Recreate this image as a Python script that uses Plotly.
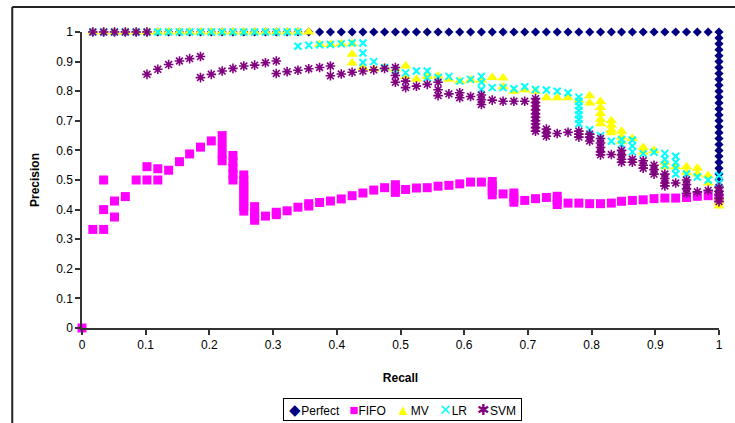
import plotly.graph_objects as go

# ---------------- data ----------------
perfect_recall = [0.017, 0.034, 0.051, 0.068, 0.085, 0.102, 0.119, 0.136, 0.153, 0.169,
                  0.186, 0.203, 0.220, 0.237, 0.254, 0.271, 0.288, 0.305, 0.322, 0.339,
                  0.356, 0.373, 0.390, 0.407, 0.424, 0.441, 0.458, 0.475, 0.492, 0.508,
                  0.525, 0.542, 0.559, 0.576, 0.593, 0.610, 0.627, 0.644, 0.661, 0.678,
                  0.695, 0.712, 0.729, 0.746, 0.763, 0.780, 0.797, 0.814, 0.831, 0.847,
                  0.864, 0.881, 0.898, 0.915, 0.932, 0.949, 0.966, 0.983, 1.0,
                  1.0, 1.0, 1.0, 1.0, 1.0, 1.0, 1.0, 1.0, 1.0, 1.0,
                  1.0, 1.0, 1.0, 1.0, 1.0, 1.0, 1.0, 1.0, 1.0, 1.0,
                  1.0, 1.0, 1.0, 1.0, 1.0, 1.0, 1.0, 1.0]
perfect_precision = [1.0, 1.0, 1.0, 1.0, 1.0, 1.0, 1.0, 1.0, 1.0, 1.0,
                     1.0, 1.0, 1.0, 1.0, 1.0, 1.0, 1.0, 1.0, 1.0, 1.0,
                     1.0, 1.0, 1.0, 1.0, 1.0, 1.0, 1.0, 1.0, 1.0, 1.0,
                     1.0, 1.0, 1.0, 1.0, 1.0, 1.0, 1.0, 1.0, 1.0, 1.0,
                     1.0, 1.0, 1.0, 1.0, 1.0, 1.0, 1.0, 1.0, 1.0, 1.0,
                     1.0, 1.0, 1.0, 1.0, 1.0, 1.0, 1.0, 1.0, 1.0,
                     0.98, 0.96, 0.94, 0.92, 0.90, 0.88, 0.86, 0.84, 0.82, 0.80,
                     0.78, 0.76, 0.74, 0.72, 0.70, 0.68, 0.66, 0.64, 0.62, 0.60,
                     0.58, 0.56, 0.54, 0.52, 0.50, 0.48, 0.46, 0.44]

fifo_recall = [0.0, 0.017, 0.034, 0.034, 0.034, 0.051, 0.051, 0.068, 0.085, 0.102, 0.102,
               0.119, 0.119, 0.136, 0.153, 0.169, 0.186, 0.203,
               0.220, 0.220, 0.220, 0.220,
               0.237, 0.237, 0.237, 0.237, 0.237,
               0.254, 0.254, 0.254, 0.254, 0.254, 0.254, 0.254, 0.254, 0.254,
               0.271, 0.271, 0.271, 0.271,
               0.288, 0.305, 0.305, 0.322, 0.339, 0.356, 0.356, 0.373, 0.390, 0.407,
               0.424, 0.441, 0.458, 0.475, 0.492, 0.492, 0.492, 0.508, 0.525, 0.542,
               0.559, 0.576, 0.593, 0.610, 0.627, 0.644, 0.644, 0.644, 0.644, 0.661,
               0.678, 0.678, 0.678, 0.695, 0.712, 0.729, 0.746, 0.746, 0.746,
               0.763, 0.780, 0.797, 0.814, 0.831, 0.847, 0.864, 0.881, 0.898, 0.915,
               0.932, 0.949, 0.966, 0.983, 1.0]
fifo_precision = [0.0, 0.333, 0.333, 0.40, 0.50, 0.375, 0.429, 0.444, 0.50, 0.50, 0.545,
                  0.50, 0.538, 0.533, 0.562, 0.588, 0.611, 0.632,
                  0.650, 0.620, 0.590, 0.565,
                  0.583, 0.560, 0.540, 0.520, 0.500,
                  0.517, 0.500, 0.483, 0.470, 0.455, 0.440, 0.425, 0.410, 0.395,
                  0.410, 0.390, 0.375, 0.364,
                  0.378, 0.391, 0.383, 0.396, 0.408, 0.420, 0.412, 0.424, 0.429, 0.436,
                  0.447, 0.456, 0.466, 0.474, 0.484, 0.470, 0.458, 0.468, 0.473, 0.474,
                  0.479, 0.482, 0.487, 0.493, 0.493, 0.495, 0.480, 0.465, 0.450, 0.453,
                  0.456, 0.440, 0.425, 0.431, 0.437, 0.441, 0.445, 0.430, 0.417,
                  0.422, 0.422, 0.420, 0.420, 0.422, 0.428, 0.431, 0.433, 0.437, 0.439,
                  0.439, 0.441, 0.445, 0.447, 0.440]

mv_recall = [0.017, 0.034, 0.051, 0.068, 0.085, 0.102, 0.119, 0.136, 0.153, 0.169,
             0.186, 0.203, 0.220, 0.237, 0.254, 0.271, 0.288, 0.305, 0.322, 0.339, 0.356,
             0.373, 0.390, 0.407, 0.424, 0.424, 0.424, 0.441, 0.458, 0.475, 0.492,
             0.508, 0.508, 0.525, 0.542, 0.559, 0.576, 0.593, 0.610, 0.627, 0.644,
             0.661, 0.661, 0.678, 0.695, 0.712, 0.729, 0.746, 0.763, 0.780,
             0.797, 0.797, 0.814, 0.814, 0.814, 0.814, 0.814,
             0.831, 0.831, 0.831, 0.831, 0.847, 0.847, 0.847, 0.864,
             0.881, 0.881, 0.898, 0.915, 0.915, 0.932, 0.949, 0.949, 0.966, 0.966,
             0.983, 0.983, 1.0, 1.0, 1.0]
mv_precision = [1.0, 1.0, 1.0, 1.0, 1.0, 1.0, 1.0, 1.0, 1.0, 1.0,
                1.0, 1.0, 1.0, 1.0, 1.0, 1.0, 1.0, 1.0, 1.0, 1.0, 1.0,
                0.958, 0.958, 0.960, 0.960, 0.925, 0.895, 0.880, 0.875, 0.879, 0.875,
                0.885, 0.850, 0.840, 0.850, 0.851, 0.840, 0.834, 0.838, 0.838, 0.846,
                0.845, 0.815, 0.800, 0.805, 0.800, 0.778, 0.778, 0.778, 0.770,
                0.785, 0.760, 0.765, 0.745, 0.725, 0.705, 0.690,
                0.700, 0.685, 0.670, 0.660, 0.665, 0.645, 0.630, 0.640,
                0.610, 0.595, 0.600, 0.560, 0.545, 0.545, 0.545, 0.525, 0.540, 0.520,
                0.515, 0.490, 0.440, 0.425, 0.412]

lr_recall = [0.017, 0.034, 0.051, 0.068, 0.085, 0.102, 0.119, 0.136, 0.153, 0.169,
             0.186, 0.203, 0.220, 0.237, 0.254, 0.271, 0.288, 0.305, 0.322, 0.339,
             0.339, 0.356, 0.373, 0.390, 0.407, 0.424, 0.441, 0.441, 0.441,
             0.458, 0.475, 0.492, 0.508, 0.525, 0.542, 0.542, 0.559, 0.576, 0.593, 0.610,
             0.627, 0.627, 0.627, 0.644, 0.661, 0.678, 0.695, 0.712, 0.729, 0.746, 0.763,
             0.780, 0.780, 0.780, 0.780, 0.780, 0.780, 0.780,
             0.797, 0.814, 0.831, 0.847, 0.847, 0.864, 0.864, 0.864,
             0.881, 0.898, 0.915, 0.915, 0.915, 0.932, 0.932, 0.932, 0.932,
             0.949, 0.966, 0.983, 1.0, 1.0]
lr_precision = [1.0, 1.0, 1.0, 1.0, 1.0, 1.0, 1.0, 1.0, 1.0, 1.0,
                1.0, 1.0, 1.0, 1.0, 1.0, 1.0, 1.0, 1.0, 1.0, 1.0,
                0.952, 0.955, 0.957, 0.958, 0.960, 0.963, 0.963, 0.929, 0.897,
                0.900, 0.880, 0.870, 0.862, 0.868, 0.868, 0.845, 0.846, 0.850, 0.834, 0.840,
                0.850, 0.830, 0.806, 0.812, 0.812, 0.808, 0.815, 0.806, 0.804, 0.800, 0.795,
                0.780, 0.765, 0.750, 0.735, 0.720, 0.705, 0.690,
                0.670, 0.650, 0.631, 0.637, 0.620, 0.635, 0.615, 0.595,
                0.589, 0.594, 0.590, 0.570, 0.550, 0.580, 0.560, 0.540, 0.520,
                0.520, 0.510, 0.500, 0.515, 0.490]

svm_recall = [0.017, 0.034, 0.051, 0.068, 0.085, 0.102, 0.102,
              0.119, 0.136, 0.153, 0.169, 0.186, 0.186,
              0.203, 0.220, 0.237, 0.254, 0.271, 0.288, 0.305, 0.305,
              0.322, 0.339, 0.356, 0.373, 0.390, 0.390,
              0.407, 0.424, 0.441, 0.458, 0.475, 0.492, 0.492, 0.492,
              0.508, 0.508, 0.525, 0.542, 0.559, 0.559, 0.559,
              0.576, 0.593, 0.593, 0.610, 0.627, 0.627, 0.627,
              0.644, 0.661, 0.678, 0.695,
              0.712, 0.712, 0.712, 0.712, 0.712, 0.712, 0.712, 0.712, 0.712, 0.712,
              0.729, 0.729, 0.729, 0.746, 0.763, 0.780, 0.780, 0.780,
              0.797, 0.797, 0.797, 0.814, 0.814, 0.814, 0.814, 0.814,
              0.831, 0.847, 0.847, 0.847, 0.847, 0.864, 0.864,
              0.881, 0.881, 0.881, 0.898, 0.898, 0.898, 0.915, 0.915, 0.915, 0.915,
              0.932, 0.949, 0.949, 0.949, 0.949, 0.966, 0.983,
              1.0, 1.0, 1.0, 1.0, 1.0]
svm_precision = [1.0, 1.0, 1.0, 1.0, 1.0, 1.0, 0.857,
                 0.874, 0.890, 0.902, 0.910, 0.917, 0.846,
                 0.857, 0.868, 0.877, 0.885, 0.888, 0.896, 0.902, 0.860,
                 0.866, 0.871, 0.876, 0.880, 0.885, 0.852,
                 0.858, 0.864, 0.868, 0.872, 0.877, 0.880, 0.853, 0.830,
                 0.834, 0.812, 0.817, 0.823, 0.830, 0.805, 0.785,
                 0.791, 0.795, 0.778, 0.782, 0.787, 0.771, 0.755,
                 0.770, 0.766, 0.766, 0.766,
                 0.775, 0.762, 0.750, 0.737, 0.724, 0.712, 0.700, 0.689, 0.677, 0.665,
                 0.672, 0.660, 0.648, 0.657, 0.661, 0.665, 0.655, 0.645,
                 0.655, 0.645, 0.632, 0.640, 0.625, 0.610, 0.595, 0.585,
                 0.586, 0.600, 0.585, 0.570, 0.560, 0.570, 0.560,
                 0.565, 0.550, 0.540, 0.550, 0.535, 0.520, 0.520, 0.505, 0.490, 0.480,
                 0.490, 0.500, 0.485, 0.470, 0.455, 0.460, 0.465,
                 0.475, 0.462, 0.450, 0.437, 0.427]

x_ticks = [0, 0.1, 0.2, 0.3, 0.4, 0.5, 0.6, 0.7, 0.8, 0.9, 1]
x_tick_labels = ["0", "0.1", "0.2", "0.3", "0.4", "0.5", "0.6", "0.7", "0.8", "0.9", "1"]
y_ticks = [0, 0.1, 0.2, 0.3, 0.4, 0.5, 0.6, 0.7, 0.8, 0.9, 1]
y_tick_labels = ["0", "0.1", "0.2", "0.3", "0.4", "0.5", "0.6", "0.7", "0.8", "0.9", "1"]

series_names = ["Perfect", "FIFO", "MV", "LR", "SVM"]
series_colors = ["#000080", "#FF00FF", "#FFFF00", "#00FFFF", "#800080"]
legend_glyphs = ["\u25C6", "\u25A0", "\u25B2", "\u2715", "\u2731"]

# ---------------- figure ----------------
FONT = "Arial, 'Liberation Sans', sans-serif"
fig = go.Figure()

fig.add_trace(go.Scatter(x=perfect_recall, y=perfect_precision, mode="markers", name=series_names[0],
                         cliponaxis=False,
                         marker=dict(symbol="diamond", size=7, color=series_colors[0])))
fig.add_trace(go.Scatter(x=fifo_recall, y=fifo_precision, mode="markers", name=series_names[1],
                         cliponaxis=False,
                         marker=dict(symbol="square", size=9, color=series_colors[1])))
fig.add_trace(go.Scatter(x=mv_recall, y=mv_precision, mode="markers", name=series_names[2],
                         cliponaxis=False,
                         marker=dict(symbol="triangle-up", size=10, color=series_colors[2])))
fig.add_trace(go.Scatter(x=lr_recall, y=lr_precision, mode="markers", name=series_names[3],
                         cliponaxis=False,
                         marker=dict(symbol="x-thin-open", size=7, color=series_colors[3],
                                     line=dict(width=2, color=series_colors[3]))))
fig.add_trace(go.Scatter(x=svm_recall, y=svm_precision, mode="markers", name=series_names[4],
                         cliponaxis=False,
                         marker=dict(symbol="asterisk-open", size=8, color=series_colors[4],
                                     line=dict(width=1.6, color=series_colors[4]))))

axis_common = dict(range=[0, 1], showgrid=False, zeroline=False, showline=True,
                   linecolor="#333333", linewidth=1.5, ticks="outside", ticklen=5,
                   tickcolor="#333333", tickwidth=1.5,
                   tickfont=dict(family=FONT, size=12, color="black"))

# compact Excel-style legend built from the series names/colours
legend_text = "&nbsp;" + "&nbsp;&nbsp;&nbsp;".join(
    f"<span style='color:{c};font-size:15px'>{g}</span>{n}"
    for n, c, g in zip(series_names, series_colors, legend_glyphs)
) + "&nbsp;"

fig.update_layout(
    width=735, height=423,
    margin=dict(l=82, r=14, t=32, b=95),
    paper_bgcolor="white", plot_bgcolor="white",
    font=dict(family=FONT, size=12, color="black"),
    xaxis=dict(**axis_common, tickvals=x_ticks, ticktext=x_tick_labels,
               title=dict(text="Recall", standoff=22,
                          font=dict(family=FONT, size=12, color="black", weight="bold"))),
    yaxis=dict(**axis_common, tickvals=y_ticks, ticktext=y_tick_labels,
               title=dict(text="Precision", standoff=14,
                          font=dict(family=FONT, size=12, color="black", weight="bold"))),
    showlegend=False,
    annotations=[
        dict(text=legend_text, xref="paper", yref="paper", x=0.503, y=-0.277,
             xanchor="center", yanchor="middle", showarrow=False,
             font=dict(family=FONT, size=12, color="black"),
             bordercolor="black", borderwidth=1, borderpad=2, bgcolor="white"),
    ],
    shapes=[
        dict(type="line", xref="paper", yref="paper", x0=-0.1095, x1=1.05, y0=1.0845, y1=1.0845,
             line=dict(color="#222222", width=2)),
        dict(type="line", xref="paper", yref="paper", x0=-0.1095, x1=-0.1095, y0=1.0845, y1=-0.36,
             line=dict(color="#222222", width=2)),
    ],
)

fig.write_html("out.html", config={"displayModeBar": False},
               post_script="document.body.style.margin='0';document.body.style.padding='0';")
